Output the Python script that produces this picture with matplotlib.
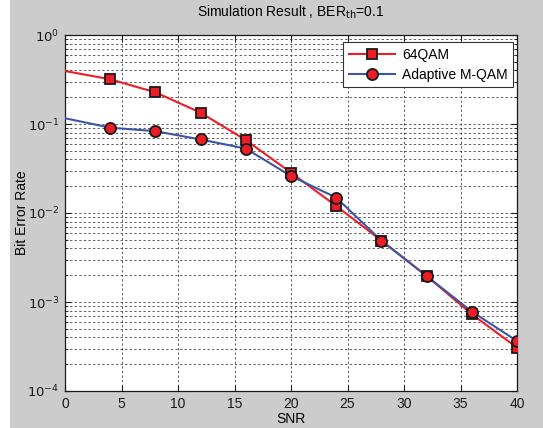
import matplotlib
matplotlib.use("Agg")
import matplotlib.pyplot as plt
from matplotlib.patches import Rectangle
from matplotlib.ticker import LogLocator, NullFormatter, FixedLocator

plt.rcParams['font.family'] = ['Liberation Sans', 'DejaVu Sans']

# Data
snr_line = [0, 4, 8, 12, 16, 20, 24, 28, 32, 36, 40]
qam64 = [0.394, 0.318, 0.227, 0.134, 0.066, 0.0284, 0.012, 0.0049, 0.00196, 0.00073, 0.000307]
adaptive = [0.116, 0.091, 0.083, 0.067, 0.053, 0.026, 0.0149, 0.00489, 0.00196, 0.00078, 0.000365]
marker_start = 1  # markers shown from SNR=4 on
x_ticks = [0, 5, 10, 15, 20, 25, 30, 35, 40]
y_ticks = [1e-4, 1e-3, 1e-2, 1e-1, 1e0]
y_tick_labels = ['$10^{-4}$', '$10^{-3}$', '$10^{-2}$', '$10^{-1}$', '$10^{0}$']

W, H = 543, 428
fig = plt.figure(figsize=(W / 100, H / 100), dpi=100, facecolor='#cccccc')
fig.patches.append(Rectangle((0, 0), 10 / W, 1, transform=fig.transFigure,
                             facecolor='white', edgecolor='none', zorder=-10))

ax = fig.add_axes([65 / W, (H - 391) / H, (517 - 65) / W, (391 - 35) / H])
ax.set_facecolor('white')

red = '#ee1c24'
blue = '#3a56a8'

# 64QAM
ax.plot(snr_line, qam64, color=red, lw=1.5, zorder=3)
ax.plot(snr_line[marker_start:], qam64[marker_start:], ls='none', marker='s',
        ms=7, mfc=red, mec='#1a1a1a', mew=1.3, zorder=4)
# Adaptive
ax.plot(snr_line, adaptive, color=blue, lw=1.5, zorder=3)
ax.plot(snr_line[marker_start:], adaptive[marker_start:], ls='none', marker='o',
        ms=8, mfc=red, mec='#1a1a1a', mew=1.3, zorder=4)

# legend proxies
h1, = ax.plot([], [], color=red, lw=1.5, marker='s', ms=7, mfc=red, mec='#1a1a1a', mew=1.3)
h2, = ax.plot([], [], color=blue, lw=1.5, marker='o', ms=8, mfc=red, mec='#1a1a1a', mew=1.3)
leg = ax.legend([h1, h2], ['64QAM', 'Adaptive M-QAM'], loc='upper right',
                bbox_to_anchor=(0.991, 0.979), fontsize=10, frameon=True, fancybox=False,
                handlelength=3.3, borderpad=0.4, labelspacing=0.4, handletextpad=0.5,
                borderaxespad=0)
leg.get_frame().set_edgecolor('#333333')
leg.get_frame().set_linewidth(0.8)
leg.get_frame().set_facecolor('white')
leg.get_frame().set_alpha(1)
leg.set_zorder(10)

ax.set_yscale('log')
ax.set_xlim(0, 40)
ax.set_ylim(1e-4, 1e0)
ax.xaxis.set_major_locator(FixedLocator(x_ticks))
ax.set_xticklabels([str(t) for t in x_ticks])
ax.yaxis.set_major_locator(FixedLocator(y_ticks))
ax.set_yticklabels(y_tick_labels)
ax.yaxis.set_minor_locator(LogLocator(base=10, subs=range(2, 10)))
ax.yaxis.set_minor_formatter(NullFormatter())

ax.tick_params(which='both', direction='in', top=True, right=True, labelsize=10,
               colors='#1a1a1a')
ax.tick_params(axis='y', which='major', labelsize=9.5)
ax.tick_params(which='major', length=4, pad=4)
ax.tick_params(which='minor', length=2.5)

ax.grid(True, which='major', axis='both', color='#333333', lw=0.55, ls=(0, (3, 3)))
ax.grid(True, which='minor', axis='y', color='#333333', lw=0.55, ls=(0, (3, 3)))

for s in ax.spines.values():
    s.set_color('#1a1a1a')
    s.set_linewidth(0.9)

ax.set_xlabel('SNR', fontsize=10, labelpad=1)
ax.set_ylabel('Bit Error Rate', fontsize=10)
ax.yaxis.set_label_coords(-0.08, 0.5)
ax.set_title('Simulation Result , BER$_{\\mathrm{th}}$=0.1', fontsize=10, pad=13)

fig.savefig('out.png', dpi=100, facecolor=fig.get_facecolor())
